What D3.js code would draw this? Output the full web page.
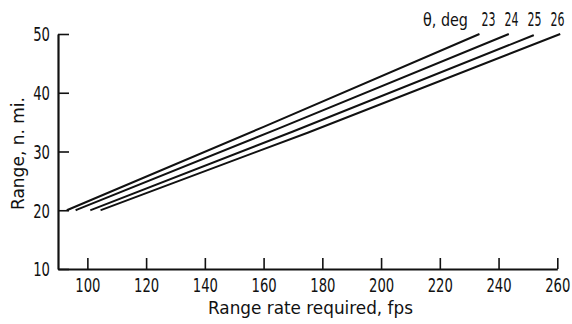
<!DOCTYPE html>
<html><head><meta charset="utf-8">
<script src="https://cdn.jsdelivr.net/npm/d3@7/dist/d3.min.js"></script>
<style>
body{margin:0;background:#fff;}
text{font-family:"DejaVu Sans Condensed","DejaVu Sans",sans-serif;fill:#111;}
</style></head>
<body><svg id="c" width="572" height="324"></svg>
<script>
const xTicks = [100,120,140,160,180,200,220,240,260];
const yTicks = [10,20,30,40,50];
const thetaLabels = ["23","24","25","26"];
const rate23 = [93,160,233.5];
const range23 = [20,34.2,50];
const rate24 = [96,165,243.5];
const range24 = [20,33.9,50];
const rate25 = [101,170,252];
const range25 = [20,33.4,49.8];
const rate26 = [104.5,175,261];
const range26 = [20,33.2,50];
const series = [[rate23,range23],[rate24,range24],[rate25,range25],[rate26,range26]];

const svg = d3.select("#c");
const x = d3.scaleLinear().domain([90,260]).range([58,557.3]);
const y = d3.scaleLinear().domain([10,50]).range([269,34]);

const gx = svg.append("g").attr("transform","translate(0,269)")
  .call(d3.axisBottom(x).tickValues(xTicks).tickSizeInner(-11).tickSizeOuter(0).tickPadding(9.5));
const gy = svg.append("g").attr("transform","translate(58,0)")
  .call(d3.axisLeft(y).tickValues(yTicks).tickSizeInner(-11).tickSizeOuter(0).tickPadding(8));
[gx,gy].forEach(g=>{
  g.select(".domain").attr("stroke","#111").attr("stroke-width",2.2);
  g.selectAll(".tick line").attr("stroke","#111").attr("stroke-width",1.6);
  g.selectAll(".tick text").attr("font-size",19).attr("fill","#111")
   .attr("font-family","'DejaVu Sans Condensed','DejaVu Sans',sans-serif")
   .attr("lengthAdjust","spacingAndGlyphs")
   .attr("textLength",d=>String(d).length*8.4);
});
gy.selectAll(".tick text").attr("dy","0.36em");

const line = d3.line().x(d=>x(d[0])).y(d=>y(d[1])).curve(d3.curveMonotoneX);
series.forEach(s=>{
  const pts = s[0].map((v,i)=>[v,s[1][i]]);
  svg.append("path").datum(pts).attr("d",line)
    .attr("fill","none").attr("stroke","#111").attr("stroke-width",2);
});

svg.append("text").attr("x",423).attr("y",26)
  .attr("font-size",18).attr("textLength",45).attr("lengthAdjust","spacingAndGlyphs").text("θ, deg");
thetaLabels.forEach((t,i)=>{
  svg.append("text").attr("x",488.5+23*i).attr("y",26).attr("text-anchor","middle")
    .attr("font-size",19).attr("textLength",14).attr("lengthAdjust","spacingAndGlyphs").text(t);
});

svg.append("text").attr("x",208).attr("y",314)
  .attr("font-size",18).attr("textLength",205).attr("lengthAdjust","spacingAndGlyphs")
  .text("Range rate required, fps");
svg.append("text").attr("transform","translate(24,210) rotate(-90)")
  .attr("font-size",18).attr("textLength",113).attr("lengthAdjust","spacingAndGlyphs")
  .text("Range, n. mi.");
</script></body></html>
